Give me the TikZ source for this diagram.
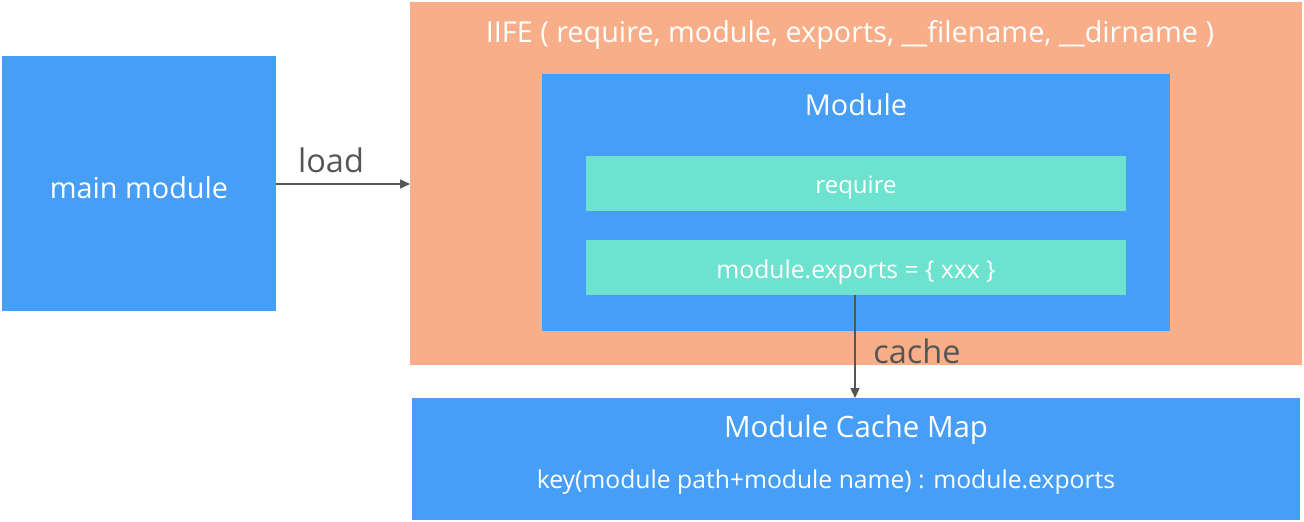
\documentclass[tikz,border=0pt]{standalone}
\usepackage{fontspec}
\setmainfont{Open Sans}
\usetikzlibrary{arrows.meta}
\definecolor{blu}{RGB}{70,158,247}
\definecolor{sal}{RGB}{248,174,136}
\definecolor{tea}{RGB}{108,226,207}
\definecolor{gry}{RGB}{85,85,85}
\begin{document}
\begin{tikzpicture}[x=1pt,y=-1pt,
  box/.style={inner sep=0pt,outer sep=0pt},
  wtxt/.style={text=white,inner sep=0pt},
  lbl/.style={text=gry,inner sep=0pt,font=\fontsize{32.5}{36}\selectfont},
  conn/.style={draw=gry,line width=1.5pt,-{Triangle[length=10pt,width=9pt]}}]
\useasboundingbox (0,0) rectangle (1304,522);
\fill[white] (0,0) rectangle (1304,522);
\fill[blu] (2,56) rectangle (276,311);
\node[box] (main) at (139,183.5) [minimum width=274pt,minimum height=255pt] {};
\node[wtxt,font=\fontsize{28.8}{32}\selectfont] (maint) at (139,188) {main module};
\fill[sal] (410,2) rectangle (1302,365);
\node[box] (iife) at (856,183.5) [minimum width=892pt,minimum height=363pt] {};
\node[wtxt,font=\fontsize{28.8}{32}\selectfont] (iifet) at (850,35) {IIFE ( require, module, exports, \_\_filename, \_\_dirname )};
\fill[blu] (542,74) rectangle (1170,331);
\node[box] (mod) at (856,202.5) [minimum width=628pt,minimum height=257pt] {};
\node[wtxt,font=\fontsize{28.8}{32}\selectfont] (modt) at (856,105) {Module};
\fill[tea] (586,156) rectangle (1126,211);
\node[box] (req) at (856,183.5) [minimum width=540pt,minimum height=55pt] {};
\node[wtxt,font=\fontsize{24}{28}\selectfont] (reqt) at (856,188) {require};
\fill[tea] (586,240) rectangle (1126,295);
\node[box] (exp) at (856,267.5) [minimum width=540pt,minimum height=55pt] {};
\node[wtxt,font=\fontsize{24.7}{28}\selectfont] (expt) at (856,272) {module.exports = \{ xxx \}};
\fill[blu] (412,398) rectangle (1300,520);
\node[box] (cache) at (856,459) [minimum width=888pt,minimum height=122pt] {};
\node[wtxt,font=\fontsize{29.4}{33}\selectfont] (cachet) at (856,430) {Module Cache Map};
\node[wtxt,font=\fontsize{24.7}{28}\selectfont] (keyt) at (826,482) {key(module path+module name) : module.exports};
\draw[conn] (main.east |- 0,184) -- (iife.west |- 0,184);
\node[lbl] (loadl) at (331,160) {load};
\draw[conn] (855,295) -- (855,398);
\node[lbl] (cachel) at (917,351) {cache};
\end{tikzpicture}
\end{document}
